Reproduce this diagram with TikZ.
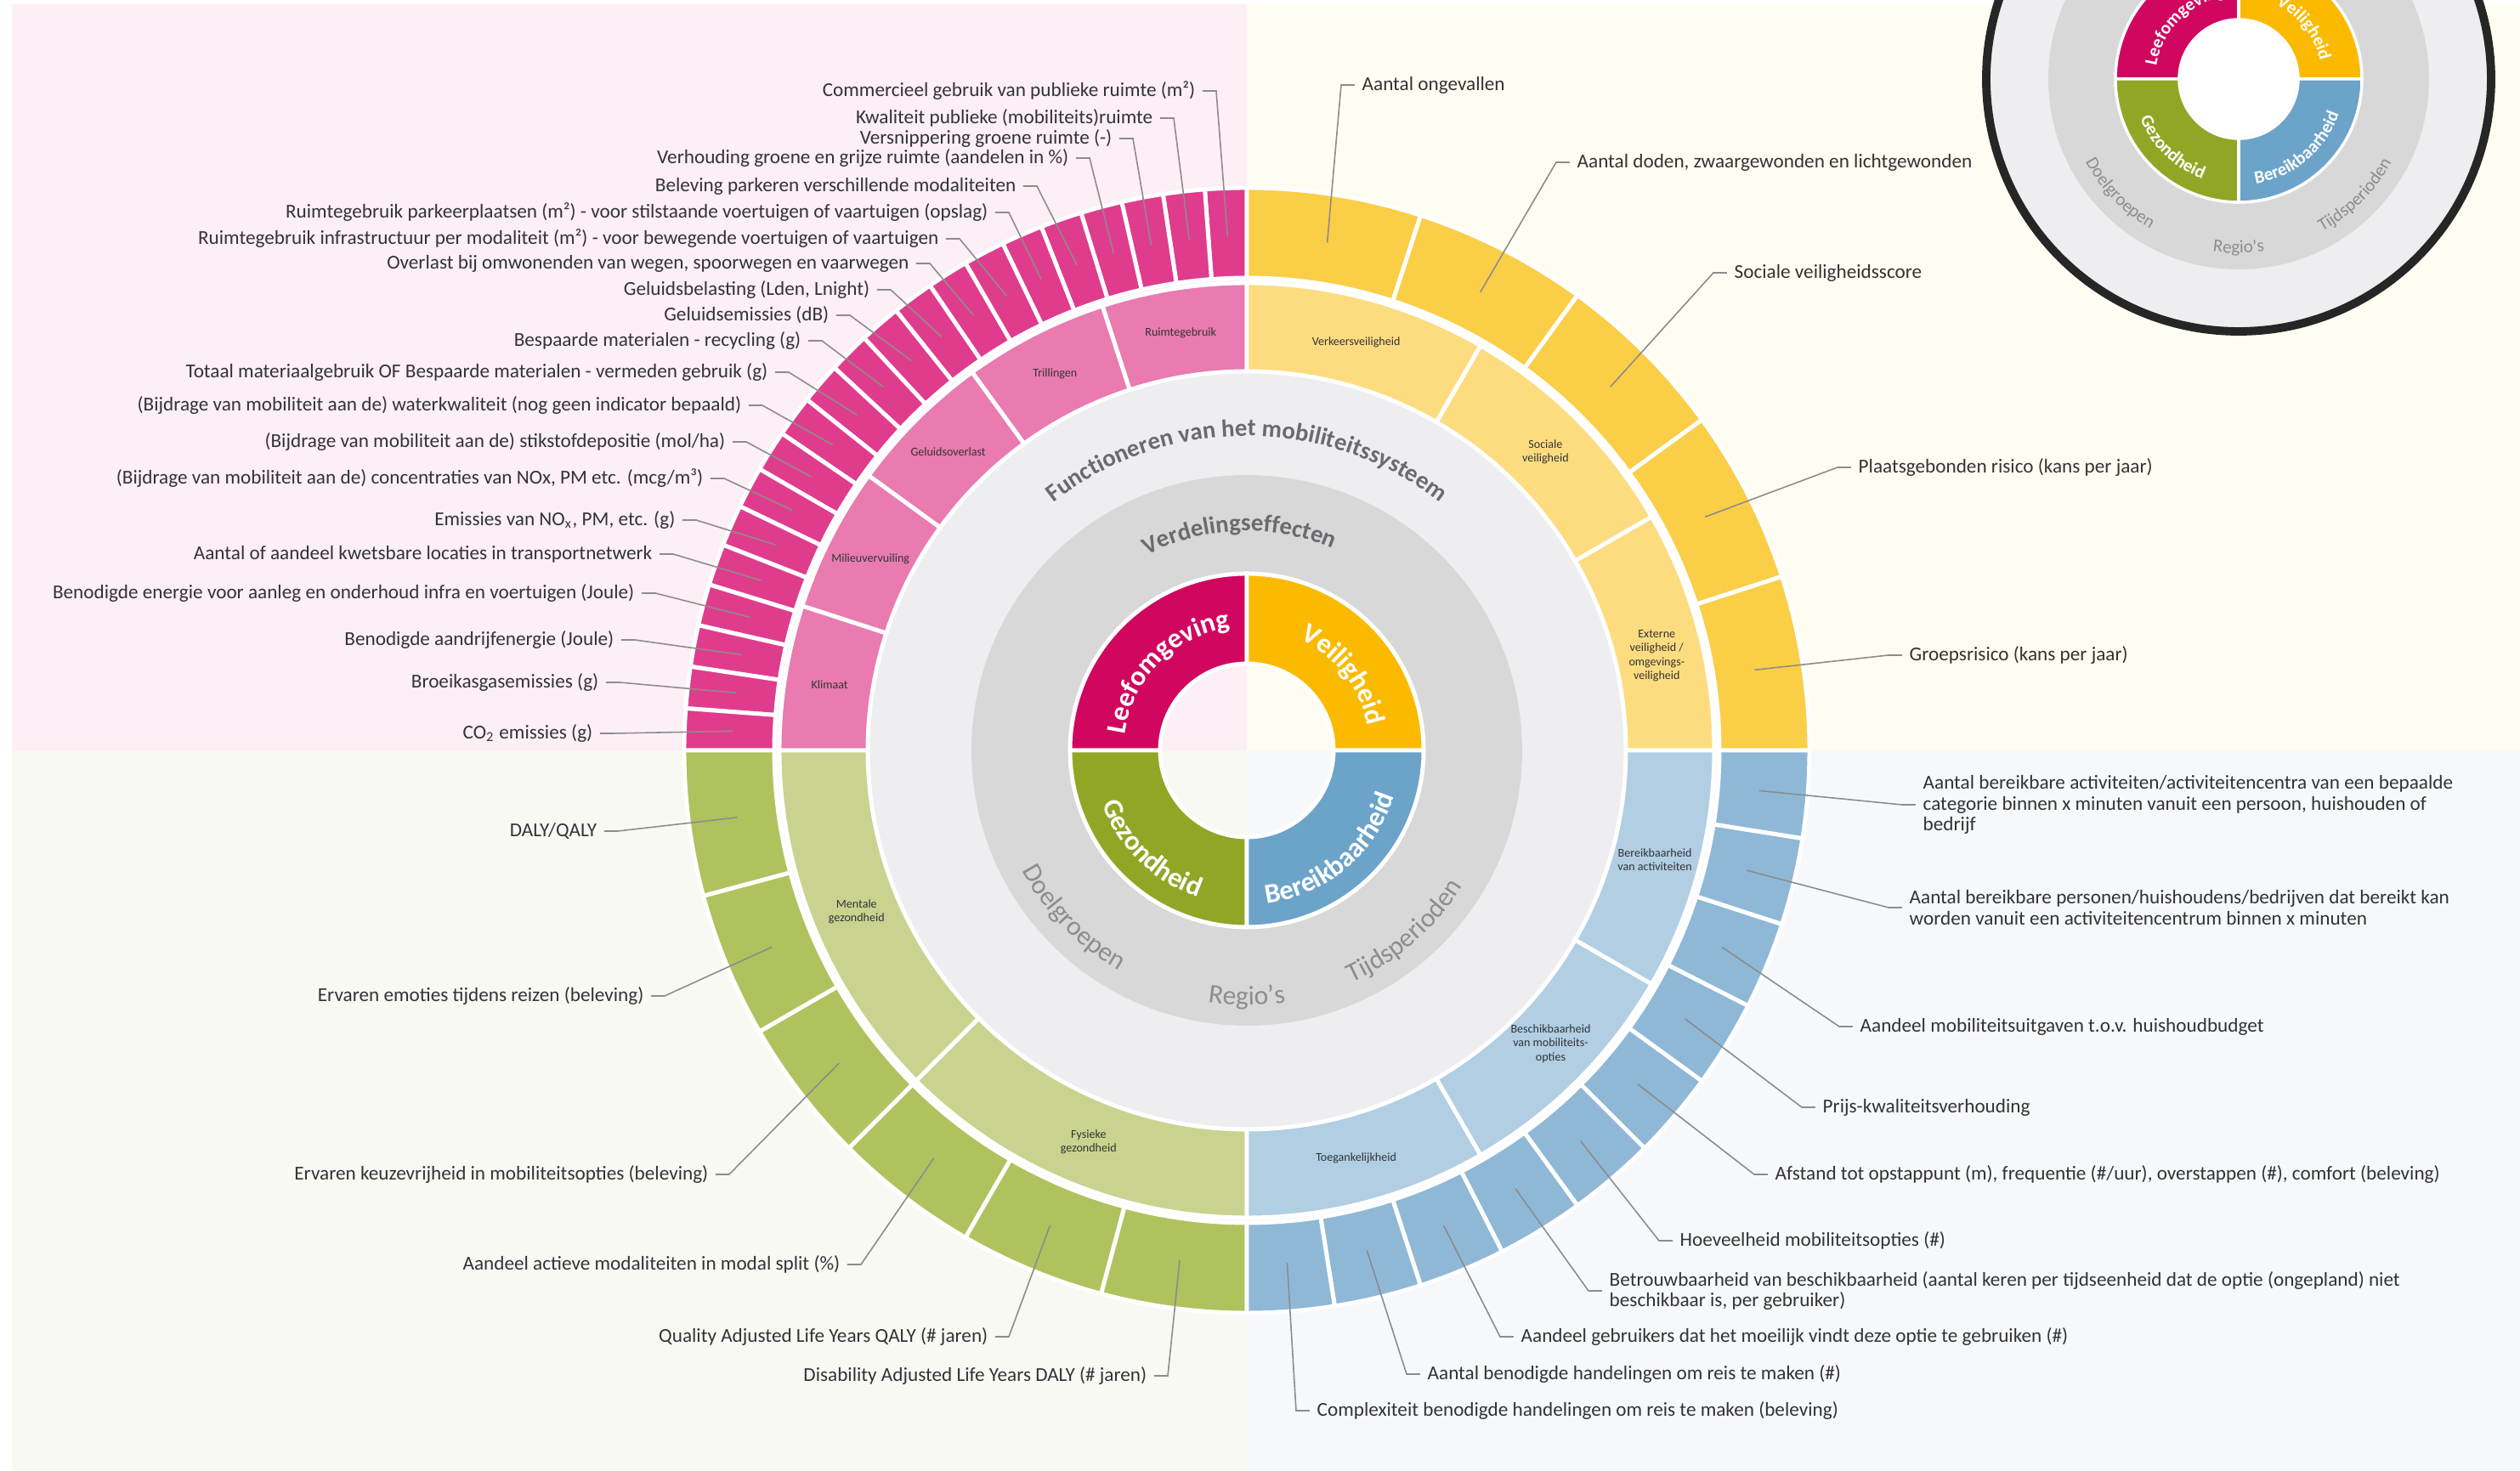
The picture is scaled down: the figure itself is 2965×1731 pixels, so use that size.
\documentclass[tikz,border=0pt]{standalone}
\usepackage{fontspec}
\setmainfont{Carlito}
\usepackage{xcolor}
\usepackage{tikz}
\usetikzlibrary{decorations.text}

\definecolor{bgleef}{HTML}{FCEFF5}
\definecolor{bgveil}{HTML}{FFFDF1}
\definecolor{bggez}{HTML}{F9F9F3}
\definecolor{bgber}{HTML}{F6F8FB}
\definecolor{leefin}{HTML}{D1075F}
\definecolor{leefmid}{HTML}{E97BB0}
\definecolor{leefout}{HTML}{E03C8D}
\definecolor{veilin}{HTML}{FBBA00}
\definecolor{veilmid}{HTML}{FDDC80}
\definecolor{veilout}{HTML}{FBCE48}
\definecolor{gezin}{HTML}{91A625}
\definecolor{gezmid}{HTML}{C9D38F}
\definecolor{gezout}{HTML}{B0C25E}
\definecolor{berin}{HTML}{6BA3C9}
\definecolor{bermid}{HTML}{B1CEE3}
\definecolor{berout}{HTML}{8FB8D7}
\definecolor{lightring}{HTML}{EEEEF0}
\definecolor{greyring}{HTML}{D8D8D9}
\definecolor{ringgrey}{HTML}{6A6B6E}
\definecolor{softgrey}{HTML}{8D8D90}
\definecolor{labtext}{HTML}{333335}
\definecolor{leadgrey}{HTML}{8C8C8C}
\definecolor{legborder}{HTML}{262626}

\newcommand{\labfont}{\fontsize{6.6pt}{7pt}\selectfont}
\newcommand{\tinyfont}{\fontsize{4pt}{4.6pt}\selectfont}
\newcommand{\ringbold}{\fontsize{8.2pt}{9pt}\selectfont\bfseries}
\newcommand{\quadbold}{\fontsize{9.3pt}{10pt}\selectfont\bfseries}
\newcommand{\greytxt}{\fontsize{9pt}{10pt}\selectfont}
\newcommand{\legbold}{\fontsize{6pt}{7pt}\selectfont\bfseries}
\newcommand{\leggrey}{\fontsize{6pt}{7pt}\selectfont}

% annular sector: start angle, end angle, inner radius, outer radius, colour
\newcommand{\ringseg}[5]{%
  \filldraw[seg, fill=#5] (#1:#3) arc[start angle=#1, end angle=#2, radius=#3]
    -- (#2:#4) arc[start angle=#2, end angle=#1, radius=#4] -- cycle;}

\begin{document}
\begin{tikzpicture}[x=0.01cm, y=0.01cm,
    seg/.style={draw=white, line width=1.4pt},
    lab/.style={font=\labfont, text=labtext, inner sep=0pt},
    labl/.style={lab, anchor=east, align=right},
    labr/.style={lab, anchor=west, align=left},
    sublab/.style={font=\tinyfont, text=labtext, align=center, inner sep=0pt},
    leader/.style={draw=leadgrey, line width=0.45pt}]
    \useasboundingbox (-1467,-848) rectangle (1498,883);
    \clip (-1467,-848) rectangle (1498,883);

    % Background quadrants
    \fill[white] (-1467,-848) rectangle (1498,883);
    \fill[bgleef] (-1453,0) rectangle (0,878);
    \fill[bgveil] (0,0) rectangle (1498,878);
    \fill[bggez] (-1453,-848) rectangle (0,0);
    \fill[bgber] (0,-848) rectangle (1498,0);

    % Grey rings
    \fill[lightring, even odd rule] (0,0) circle (446) (0,0) circle (324);
    \fill[greyring, even odd rule] (0,0) circle (324) (0,0) circle (208);

    % Inner ring: the four themes
    \ringseg{90}{180}{102}{208}{leefin}
    \ringseg{0}{90}{102}{208}{veilin}
    \ringseg{180}{270}{102}{208}{gezin}
    \ringseg{270}{360}{102}{208}{berin}

    % Middle ring
    \foreach \a/\b in {90/108,108/126,126/144,144/162,162/180} {
        \ringseg{\a}{\b}{446}{550}{leefmid}
    }
    \foreach \a/\b in {0/30,30/60,60/90} {
        \ringseg{\a}{\b}{446}{550}{veilmid}
    }
    \foreach \a/\b in {180/225,225/270} {
        \ringseg{\a}{\b}{446}{550}{gezmid}
    }
    \foreach \a/\b in {270/300,300/330,330/360} {
        \ringseg{\a}{\b}{446}{550}{bermid}
    }

    % Outer ring
    \foreach \k in {0,...,20} {
        \pgfmathsetmacro{\a}{90+\k*90/21}
        \pgfmathsetmacro{\b}{90+(\k+1)*90/21}
        \ringseg{\a}{\b}{556}{662}{leefout}
    }
    \foreach \k in {0,...,4} {
        \pgfmathsetmacro{\a}{90-\k*18}
        \pgfmathsetmacro{\b}{90-(\k+1)*18}
        \ringseg{\a}{\b}{556}{662}{veilout}
    }
    \foreach \k in {0,...,5} {
        \pgfmathsetmacro{\a}{180+\k*15}
        \pgfmathsetmacro{\b}{180+(\k+1)*15}
        \ringseg{\a}{\b}{556}{662}{gezout}
    }
    \foreach \k in {0,...,9} {
        \pgfmathsetmacro{\a}{270+\k*9}
        \pgfmathsetmacro{\b}{270+(\k+1)*9}
        \ringseg{\a}{\b}{556}{662}{berout}
    }

    % Curved ring titles
    \path[decorate, decoration={text along path, text align=center, text color=ringgrey,
        text={|\ringbold|Functioneren van het mobiliteitssysteem}}]
        (150:370) arc[start angle=150, end angle=30, radius=370];
    \path[decorate, decoration={text along path, text align=center, text color=ringgrey,
        text={|\ringbold|Verdelingseffecten}}]
        (152:258) arc[start angle=152, end angle=32, radius=258];
    \path[decorate, decoration={text along path, text align=center, text color=softgrey,
        text={|\greytxt|Doelgroepen}}]
        (190:300) arc[start angle=190, end angle=258, radius=300];
    \path[decorate, decoration={text along path, text align=center, text color=softgrey,
        text={|\greytxt|Regio's}}]
        (236:300) arc[start angle=236, end angle=304, radius=300];
    \path[decorate, decoration={text along path, text align=center, text color=softgrey,
        text={|\greytxt|Tijdsperioden}}]
        (277:300) arc[start angle=277, end angle=345, radius=300];

    % Theme names
    \path[decorate, decoration={text along path, text align=center, text color=white,
        text={|\quadbold|Leefomgeving}}]
        (200:145) arc[start angle=200, end angle=70, radius=145];
    \path[decorate, decoration={text along path, text align=center, text color=white,
        text={|\quadbold|Veiligheid}}]
        (103:145) arc[start angle=103, end angle=-27, radius=145];
    \path[decorate, decoration={text along path, text align=center, text color=white,
        text={|\quadbold|Gezondheid}}]
        (161:182) arc[start angle=161, end angle=291, radius=182];
    \path[decorate, decoration={text along path, text align=center, text color=white,
        text={|\quadbold|Bereikbaarheid}}]
        (245:182) arc[start angle=245, end angle=375, radius=182];

    % Middle ring labels
    \node[sublab] (mruimte) at (99:497) {Ruimtegebruik};
    \node[sublab] (mtril) at (117:497) {Trillingen};
    \node[sublab] (mgeluid) at (135:497) {Geluidsoverlast};
    \node[sublab] (mmilieu) at (153:497) {Milieuvervuiling};
    \node[sublab] (mklimaat) at (171:497) {Klimaat};
    \node[sublab] (mverkeer) at (75:497) {Verkeersveiligheid};
    \node[sublab] (msociaal) at (45:497) {Sociale\\veiligheid};
    \node[sublab] (mextern) at (13:495) {Externe\\veiligheid /\\omgevings-\\veiligheid};
    \node[sublab] (mbereik) at (-15:497) {Bereikbaarheid\\van activiteiten};
    \node[sublab] (mbeschik) at (-44:497) {Beschikbaarheid\\van mobiliteits-\\opties};
    \node[sublab] (mtoegang) at (-75:497) {Toegankelijkheid};
    \node[sublab] (mmentaal) at (202.5:497) {Mentale\\gezondheid};
    \node[sublab] (mfysiek) at (248:497) {Fysieke\\gezondheid};

    % Leader end points in the outer ring
    \foreach \k in {1,...,21} {\coordinate (pe\k) at ({90+(\k-0.5)*90/21}:605);}
    \foreach \k in {1,...,5} {\coordinate (ve\k) at ({90-(\k-0.5)*18}:605);}
    \foreach \k in {1,...,10} {\coordinate (be\k) at ({-(\k-0.5)*9}:605);}
    \foreach \k in {1,...,6} {\coordinate (ge\k) at ({180+(\k-0.5)*15}:605);}

    % Leefomgeving indicators
    \node[labl] (p1) at (-60,776) {Commercieel gebruik van publieke ruimte (m²)};
    \node[labl] (p2) at (-110,744) {Kwaliteit publieke (mobiliteits)ruimte};
    \node[labl] (p3) at (-158,720) {Versnippering groene ruimte (-)};
    \node[labl] (p4) at (-209,697) {Verhouding groene en grijze ruimte (aandelen in \%)};
    \node[labl] (p5) at (-271,664) {Beleving parkeren verschillende modaliteiten};
    \node[labl] (p6) at (-304,633) {Ruimtegebruik parkeerplaatsen (m²) - voor stilstaande voertuigen of vaartuigen (opslag)};
    \node[labl] (p7) at (-362,602) {Ruimtegebruik infrastructuur per modaliteit (m²) - voor bewegende voertuigen of vaartuigen};
    \node[labl] (p8) at (-397,573) {Overlast bij omwonenden van wegen, spoorwegen en vaarwegen};
    \node[labl] (p9) at (-443,542) {Geluidsbelasting (Lden, Lnight)};
    \node[labl] (p10) at (-491,512) {Geluidsemissies (dB)};
    \node[labl] (p11) at (-524,482) {Bespaarde materialen - recycling (g)};
    \node[labl] (p12) at (-563,445) {Totaal materiaalgebruik OF Bespaarde materialen - vermeden gebruik (g)};
    \node[labl] (p13) at (-594,406) {(Bijdrage van mobiliteit aan de) waterkwaliteit (nog geen indicator bepaald)};
    \node[labl] (p14) at (-613,363) {(Bijdrage van mobiliteit aan de) stikstofdepositie (mol/ha)};
    \node[labl] (p15) at (-639,320) {(Bijdrage van mobiliteit aan de) concentraties van NOx, PM etc. (mcg/m³)};
    \node[labl] (p16) at (-672,271) {Emissies van NO\textsubscript{x}, PM, etc. (g)};
    \node[labl] (p17) at (-699,231) {Aantal of aandeel kwetsbare locaties in transportnetwerk};
    \node[labl] (p18) at (-720,185) {Benodigde energie voor aanleg en onderhoud infra en voertuigen (Joule)};
    \node[labl] (p19) at (-744,130) {Benodigde aandrijfenergie (Joule)};
    \node[labl] (p20) at (-762,80) {Broeikasgasemissies (g)};
    \node[labl] (p21) at (-769,20) {CO\textsubscript{2} emissies (g)};

    % Veiligheid indicators
    \node[labr] (v1) at (135,783) {Aantal ongevallen};
    \node[labr] (v2) at (388,692) {Aantal doden, zwaargewonden en lichtgewonden};
    \node[labr] (v3) at (573,562) {Sociale veiligheidsscore};
    \node[labr] (v4) at (719,333) {Plaatsgebonden risico (kans per jaar)};
    \node[labr] (v5) at (779,112) {Groepsrisico (kans per jaar)};

    % Bereikbaarheid indicators
    \node[labr] (b1) at (795,-64) {Aantal bereikbare activiteiten/activiteitencentra van een bepaalde\\categorie binnen x minuten vanuit een persoon, huishouden of\\bedrijf};
    \node[labr] (b2) at (779,-185) {Aantal bereikbare personen/huishoudens/bedrijven dat bereikt kan\\worden vanuit een activiteitencentrum binnen x minuten};
    \node[labr] (b3) at (721,-325) {Aandeel mobiliteitsuitgaven t.o.v. huishoudbudget};
    \node[labr] (b4) at (677,-420) {Prijs-kwaliteitsverhouding};
    \node[labr] (b5) at (621,-499) {Afstand tot opstappunt (m), frequentie (\#/uur), overstappen (\#), comfort (beleving)};
    \node[labr] (b6) at (509,-577) {Hoeveelheid mobiliteitsopties (\#)};
    \node[labr] (b7) at (426,-636) {Betrouwbaarheid van beschikbaarheid (aantal keren per tijdseenheid dat de optie (ongepland) niet\\beschikbaar is, per gebruiker)};
    \node[labr] (b8) at (322,-690) {Aandeel gebruikers dat het moeilijk vindt deze optie te gebruiken (\#)};
    \node[labr] (b9) at (212,-734) {Aantal benodigde handelingen om reis te maken (\#)};
    \node[labr] (b10) at (82,-777) {Complexiteit benodigde handelingen om reis te maken (beleving)};

    % Gezondheid indicators
    \node[labl] (g1) at (-764,-95) {DALY/QALY};
    \node[labl] (g2) at (-709,-289) {Ervaren emoties tijdens reizen (beleving)};
    \node[labl] (g3) at (-633,-499) {Ervaren keuzevrijheid in mobiliteitsopties (beleving)};
    \node[labl] (g4) at (-478,-605) {Aandeel actieve modaliteiten in modal split (\%)};
    \node[labl] (g5) at (-304,-690) {Quality Adjusted Life Years QALY (\# jaren)};
    \node[labl] (g6) at (-117,-736) {Disability Adjusted Life Years DALY (\# jaren)};

    % Leader lines
    \foreach \k in {1,...,21} {\draw[leader] (p\k.east) ++(8,0) -- ++(16,0) -- (pe\k);}
    \foreach \k in {1,...,5} {\draw[leader] (v\k.west) ++(-8,0) -- ++(-16,0) -- (ve\k);}
    \foreach \k in {1,...,10} {\draw[leader] (b\k.west) ++(-8,0) -- ++(-16,0) -- (be\k);}
    \foreach \k in {1,...,6} {\draw[leader] (g\k.east) ++(8,0) -- ++(16,0) -- (ge\k);}

    % Legend (top right)
    \begin{scope}[shift={(1167,790)}, seg/.style={draw=white, line width=1pt}]
        \fill[lightring] (0,0) circle (295);
        \fill[greyring, even odd rule] (0,0) circle (224) (0,0) circle (145);
        \ringseg{90}{180}{70}{145}{leefin}
        \ringseg{0}{90}{70}{145}{veilin}
        \ringseg{180}{270}{70}{145}{gezin}
        \ringseg{270}{360}{70}{145}{berin}
        \fill[white] (0,0) circle (68);
        \draw[legborder, line width=2.8pt] (0,0) circle (297);
        \path[decorate, decoration={text along path, text align=center, text color=white,
            text={|\legbold|Leefomgeving}}]
            (200:98) arc[start angle=200, end angle=70, radius=98];
        \path[decorate, decoration={text along path, text align=center, text color=white,
            text={|\legbold|Veiligheid}}]
            (103:98) arc[start angle=103, end angle=-27, radius=98];
        \path[decorate, decoration={text along path, text align=center, text color=white,
            text={|\legbold|Gezondheid}}]
            (161:125) arc[start angle=161, end angle=291, radius=125];
        \path[decorate, decoration={text along path, text align=center, text color=white,
            text={|\legbold|Bereikbaarheid}}]
            (245:125) arc[start angle=245, end angle=375, radius=125];
        \path[decorate, decoration={text along path, text align=center, text color=softgrey,
            text={|\leggrey|Doelgroepen}}]
            (190:205) arc[start angle=190, end angle=258, radius=205];
        \path[decorate, decoration={text along path, text align=center, text color=softgrey,
            text={|\leggrey|Regio's}}]
            (236:205) arc[start angle=236, end angle=304, radius=205];
        \path[decorate, decoration={text along path, text align=center, text color=softgrey,
            text={|\leggrey|Tijdsperioden}}]
            (281:205) arc[start angle=281, end angle=349, radius=205];
    \end{scope}
\end{tikzpicture}
\end{document}
